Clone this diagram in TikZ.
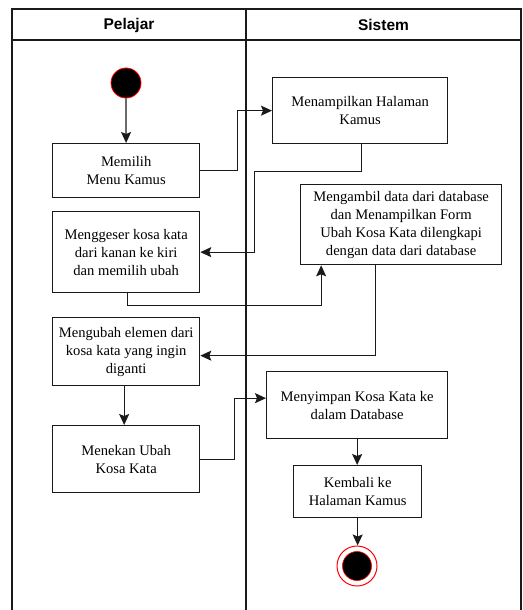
\documentclass[tikz,border=0pt]{standalone}
\usepackage{fontspec}
\setmainfont{Liberation Serif}
\setsansfont{Liberation Sans}
\usetikzlibrary{arrows.meta,positioning}
\definecolor{ink}{HTML}{1A1A1A}
\definecolor{startred}{HTML}{FF0000}

\begin{document}
\begin{tikzpicture}[x=1pt,y=-1pt]
  \tikzstyle{act}=[rectangle,draw=ink,line width=1.3pt,align=center,font=\fontsize{14.6}{18}\selectfont,inner sep=0pt,anchor=north west]
  \tikzstyle{flow}=[-{Stealth[length=11pt,width=10pt,inset=2pt]},line width=1.3pt,draw=ink]
  \tikzstyle{lane}=[draw=ink,line width=1.4pt]
  \tikzstyle{head}=[font=\sffamily\bfseries\fontsize{15.5}{17}\selectfont]
  \useasboundingbox (0,0) rectangle (522,610);
  % swimlanes
  \draw[lane] (12,610) -- (12,9) -- (521,9) -- (521,610);
  \draw[lane] (12,40) -- (521,40);
  \draw[lane] (246,9) -- (246,610);
  \node[head] (pelajar) at (129,25) {Pelajar};
  \node[head] (sistem) at (383.5,25) {Sistem};
  % start and end
  \node[circle,fill=black,draw=startred,line width=0.8pt,minimum size=30pt,inner sep=0pt] (start) at (126,83) {};
  \node[circle,draw=startred,line width=1pt,minimum size=40pt,inner sep=0pt] (final) at (357,566) {};
  \node[circle,fill=black,draw=startred,line width=0.6pt,minimum size=29pt,inner sep=0pt] (finaldot) at (final) {};
  % activities
  \node[act,minimum width=147pt,minimum height=54pt] (memilih) at (52,143) {Memilih\\Menu Kamus};
  \node[act,minimum width=147pt,minimum height=81pt] (geser) at (52,211) {Menggeser kosa kata\\dari kanan ke kiri\\dan memilih ubah};
  \node[act,minimum width=147pt,minimum height=68pt] (ubah) at (52,317) {Mengubah elemen dari\\kosa kata yang ingin\\diganti};
  \node[act,minimum width=147pt,minimum height=67pt] (tekan) at (52,425) {Menekan Ubah\\Kosa Kata};
  \node[act,minimum width=175pt,minimum height=66pt] (tampil) at (272,77) {Menampilkan Halaman\\Kamus};
  \node[act,minimum width=201pt,minimum height=80pt] (ambil) at (300,184) {Mengambil data dari database\\dan Menampilkan Form\\Ubah Kosa Kata dilengkapi\\dengan data dari database};
  \node[act,minimum width=181pt,minimum height=67pt] (simpan) at (266,371) {Menyimpan Kosa Kata ke\\dalam Database};
  \node[act,minimum width=128pt,minimum height=52pt] (kembali) at (293,465) {Kembali ke\\Halaman Kamus};
  % flows
  \draw[flow] (start) -- (memilih);
  \draw[flow] (memilih.east) -- ++(37,0) |- (tampil.west);
  \draw[flow] ([xshift=1.5pt]tampil.south) -- ++(0,27) -| ([xshift=54pt]geser.east) -- (geser.east);
  \draw[flow] ([xshift=1.5pt]geser.south) -- ++(0,12) -| ([xshift=-80pt]ambil.south);
  \draw[flow] ([xshift=-26pt]ambil.south) |- ([yshift=-4pt]ubah.east);
  \draw[flow] ([xshift=-2pt]ubah.south) -- ([xshift=-2pt]tekan.north);
  \draw[flow] (tekan.east) -- ++(34,0) |- ([yshift=7pt]simpan.west);
  \draw[flow] (simpan.south) -- (simpan.south |- kembali.north);
  \draw[flow] (kembali.south) -- (kembali.south |- final.north);
\end{tikzpicture}
\end{document}
